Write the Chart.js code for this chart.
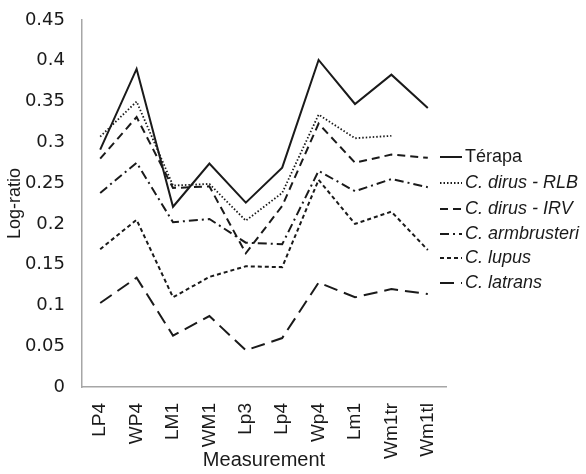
<!DOCTYPE html>
<html>
<head>
<meta charset="utf-8">
<script src="https://cdn.jsdelivr.net/npm/chart.js@4/dist/chart.umd.min.js"></script>
<style>
    body { margin: 0; background: #fff; }
    #divGraphique { width: 586px; height: 474px; }
</style>
</head>
<body>
<div id="divGraphique"><canvas id="GraphiqueLogRatio" width="586" height="474"></canvas></div>
<script>
var mesures = ["LP4", "WP4", "LM1", "WM1", "Lp3", "Lp4", "Wp4", "Lm1", "Wm1tr", "Wm1tl"];
var especes = ["Térapa", "C. dirus - RLB", "C. dirus - IRV", "C. armbrusteri", "C. lupus", "C. latrans"];

var terapa = [0.291, 0.390, 0.221, 0.274, 0.226, 0.269, 0.401, 0.347, 0.383, 0.342];
var dirusRLB = [0.307, 0.350, 0.247, 0.249, 0.204, 0.238, 0.334, 0.305, 0.308, null];
var dirusIRV = [0.280, 0.331, 0.244, 0.246, 0.164, 0.222, 0.323, 0.275, 0.285, 0.281];
var armbrusteri = [0.238, 0.275, 0.202, 0.206, 0.177, 0.175, 0.265, 0.240, 0.255, 0.245];
var lupus = [0.169, 0.205, 0.110, 0.135, 0.148, 0.147, 0.254, 0.200, 0.215, 0.168];
var latrans = [0.103, 0.134, 0.063, 0.087, 0.045, 0.060, 0.128, 0.110, 0.120, 0.114];

var graduations = [0, 0.05, 0.1, 0.15, 0.2, 0.25, 0.3, 0.35, 0.4, 0.45];

var tirets = [[], [1.5, 2], [8, 5], [9, 4, 2, 4], [4, 3], [14, 7]];
var epaisseurs = [2, 1.8, 2, 2, 2, 2];

function GetDatasets() {
    var series = [terapa, dirusRLB, dirusIRV, armbrusteri, lupus, latrans];
    var ds = [];
    for (var i = 0; i < series.length; i++) {
        ds.push({
            label: especes[i],
            data: series[i],
            borderColor: "#1a1a1a",
            borderWidth: epaisseurs[i],
            borderDash: tirets[i],
            pointRadius: 0,
            tension: 0,
            fill: false
        });
    }
    return ds;
}

// legende dessinee a la main (italique pour les especes)
var legendePlugin = {
    id: "legendeMaison",
    afterDraw: function (chart) {
        var ctx = chart.ctx;
        var ys = [157, 183, 209, 234, 258, 283];
        ctx.save();
        ctx.textBaseline = "middle";
        ctx.fillStyle = "#1a1a1a";
        for (var i = 0; i < especes.length; i++) {
            ctx.beginPath();
            ctx.strokeStyle = "#1a1a1a";
            ctx.lineWidth = epaisseurs[i];
            ctx.setLineDash(tirets[i]);
            ctx.moveTo(440, ys[i]);
            ctx.lineTo(462, ys[i]);
            ctx.stroke();
            ctx.setLineDash([]);
            ctx.font = (i === 0 ? "" : "italic ") + "18px 'Liberation Sans', Arial, sans-serif";
            ctx.fillText(especes[i], 465, ys[i]);
        }
        ctx.restore();
    }
};

var ctx = document.getElementById('GraphiqueLogRatio').getContext('2d');

var graphique = new Chart(ctx, {
    type: 'line',
    data: {
        labels: mesures,
        datasets: GetDatasets()
    },
    options: {
        responsive: false,
        animation: false,
        devicePixelRatio: 1,
        layout: { padding: { top: 20, right: 140, left: 0, bottom: 0 } },
        plugins: {
            legend: { display: false },
            tooltip: { enabled: false }
        },
        scales: {
            x: {
                offset: true,
                grid: { display: false },
                border: { display: true, color: "#a6a6a6", width: 1.5 },
                ticks: {
                    color: "#1a1a1a",
                    maxRotation: 90,
                    minRotation: 90,
                    padding: 8,
                    font: { family: "'Liberation Sans', Arial, sans-serif", size: 19 }
                },
                title: {
                    display: true,
                    text: "Measurement",
                    color: "#1a1a1a",
                    padding: { top: 0, bottom: 2 },
                    font: { family: "'Liberation Sans', Arial, sans-serif", size: 20 }
                },
                afterFit: function (scale) { scale.height = 87; }
            },
            y: {
                min: 0,
                max: 0.45,
                afterBuildTicks: function (scale) {
                    scale.ticks = graduations.map(function (v) { return { value: v }; });
                },
                grid: { display: false },
                border: { display: true, color: "#a6a6a6", width: 1.5 },
                ticks: {
                    color: "#1a1a1a",
                    padding: 9,
                    font: { family: "'DejaVu Sans', Verdana, sans-serif", size: 18 },
                    callback: function (v) { return String(+Number(v).toFixed(2)); }
                },
                title: {
                    display: true,
                    text: "Log-ratio",
                    color: "#1a1a1a",
                    padding: { top: 4, bottom: 0 },
                    font: { family: "'Liberation Sans', Arial, sans-serif", size: 18 }
                },
                afterFit: function (scale) { scale.width = 82; }
            }
        }
    },
    plugins: [legendePlugin]
});
</script>
</body>
</html>
